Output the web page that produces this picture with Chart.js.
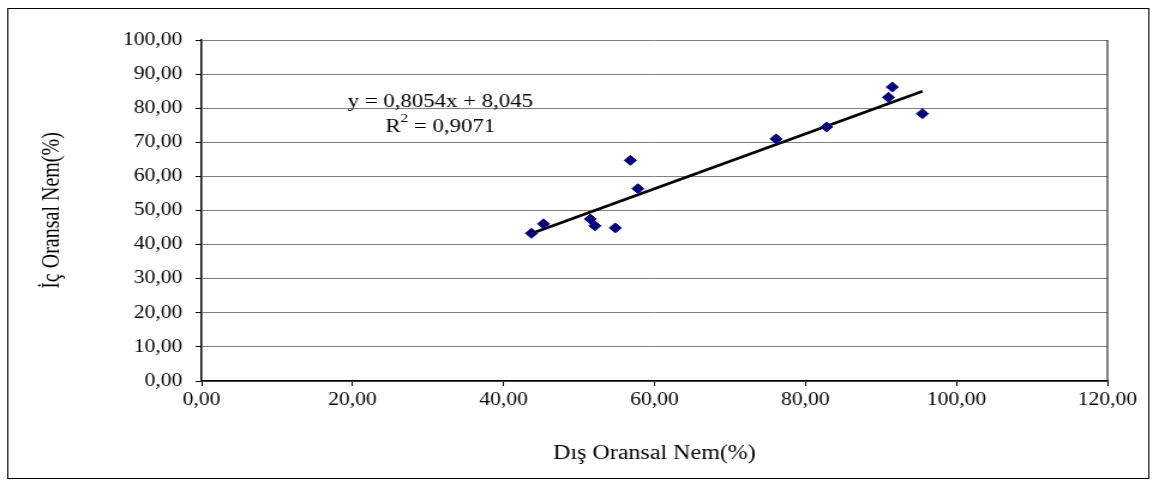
<!DOCTYPE html>
<html>
<head>
<meta charset="utf-8">
<script src="https://cdn.jsdelivr.net/npm/chart.js@4/dist/chart.umd.min.js"></script>
<style>
  body { margin: 0; background: #fff; }
  #c { display: block; }
</style>
</head>
<body>
<!-- the original picture is stretched sideways, so the chart is drawn narrower and widened by css -->
<canvas id="c" width="966" height="488" style="width:1159px;height:488px"></canvas>
<script>
// data
var disNem = [43.7, 45.3, 51.5, 52.1, 54.8, 56.8, 57.8, 76.1, 82.8, 91.0, 91.5, 95.5];
var icNem  = [43.3, 46.1, 47.5, 45.5, 44.9, 64.7, 56.4, 71.0, 74.5, 83.2, 86.2, 78.4];
var egim = 0.8054, kesim = 8.045, r2 = "0,9071";
var xTitle = "Dış Oransal Nem(%)";
var yTitle = "İç Oransal Nem(%)";

var points = [];
for (var i = 0; i < disNem.length; i++) {
  points.push({x: disNem[i], y: icNem[i]});
}
var xMin = Math.min.apply(null, disNem), xMax = Math.max.apply(null, disNem);
var trend = [{x: xMin, y: egim * xMin + kesim}, {x: xMax, y: egim * xMax + kesim}];

function virgul(v) { return v.toFixed(2).replace('.', ','); }

var fontName = "'Liberation Serif', 'Times New Roman', serif";

var extras = {
  id: 'extras',
  afterDraw: function(chart) {
    var ctx = chart.ctx, a = chart.chartArea;
    ctx.save();
    // outer frame
    ctx.strokeStyle = '#000';
    ctx.lineWidth = 1;
    ctx.strokeRect(6.5, 8.5, 951, 470);
    // right edge of plot area
    ctx.beginPath();
    ctx.moveTo(a.right, a.top);
    ctx.lineTo(a.right, a.bottom);
    ctx.stroke();
    // equation label
    ctx.fillStyle = '#000';
    ctx.textBaseline = 'alphabetic';
    ctx.font = '19px ' + fontName;
    var cx = 367;
    var t1 = 'y = ' + String(egim).replace('.', ',') + 'x + ' + String(kesim).replace('.', ',');
    ctx.textAlign = 'center';
    ctx.fillText(t1, cx, 107);
    var w1 = ctx.measureText('R').width, rest = ' = ' + r2;
    ctx.font = '13px ' + fontName;
    var w2 = ctx.measureText('2').width;
    ctx.font = '19px ' + fontName;
    var w3 = ctx.measureText(rest).width;
    var sx = cx - (w1 + w2 + w3) / 2;
    ctx.textAlign = 'left';
    ctx.fillText('R', sx, 132);
    ctx.fillText(rest, sx + w1 + w2, 132);
    ctx.font = '13px ' + fontName;
    ctx.fillText('2', sx + w1, 122);
    ctx.restore();
  }
};

new Chart(document.getElementById('c'), {
  type: 'scatter',
  data: {
    datasets: [
      {
        label: 'Ölçüm',
        data: points,
        pointStyle: 'rectRot',
        pointRadius: 5,
        pointHoverRadius: 5,
        backgroundColor: '#000080',
        borderColor: '#000080',
        borderWidth: 1
      },
      {
        label: 'Doğrusal',
        type: 'line',
        data: trend,
        borderColor: '#000',
        borderWidth: 2.6,
        pointRadius: 0,
        fill: false
      }
    ]
  },
  options: {
    responsive: false,
    devicePixelRatio: 1,
    animation: false,
    layout: { padding: { left: 0, right: 43, top: 40, bottom: 0 } },
    plugins: {
      legend: { display: false },
      tooltip: { enabled: false }
    },
    scales: {
      x: {
        type: 'linear',
        min: 0,
        max: 120,
        afterFit: function(s) { s.height = 107; },
        ticks: {
          stepSize: 20,
          color: '#000',
          padding: 3,
          maxRotation: 0,
          font: { family: fontName, size: 18 },
          callback: function(v) { return virgul(v); }
        },
        grid: { drawOnChartArea: false, drawTicks: true, tickLength: 5, color: '#000' },
        border: { color: '#000', width: 1.5 },
        title: {
          display: true,
          text: xTitle,
          color: '#000',
          font: { family: fontName, size: 20 },
          padding: { top: 0, bottom: 22 }
        }
      },
      y: {
        min: 0,
        max: 100,
        afterFit: function(s) { s.width = 168; },
        ticks: {
          stepSize: 10,
          color: '#000',
          padding: 11,
          font: { family: fontName, size: 18 },
          callback: function(v) { return virgul(v); }
        },
        grid: { color: '#808080', tickColor: '#000', tickLength: 5 },
        border: { color: '#000', width: 1.5 },
        title: {
          display: true,
          text: yTitle,
          color: '#000',
          font: { family: fontName, size: 20 },
          padding: { top: 32 }
        }
      }
    }
  },
  plugins: [extras]
});
</script>
</body>
</html>
